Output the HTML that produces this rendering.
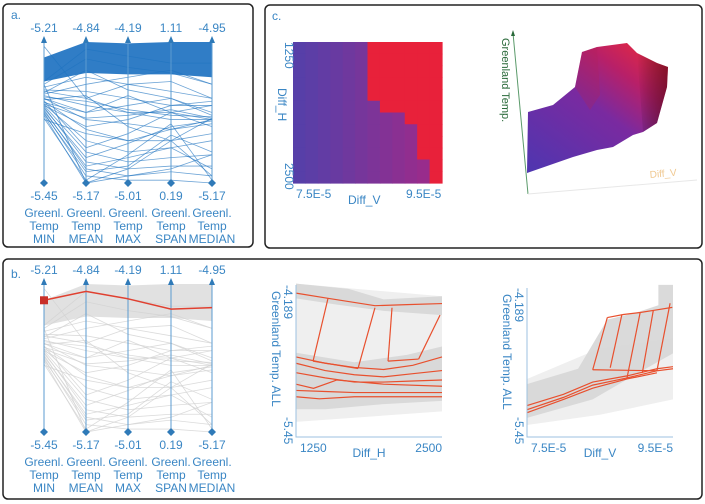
<!DOCTYPE html>
<html><head><meta charset="utf-8"><style>
html,body{margin:0;padding:0;background:#fff;}
svg{display:block;font-family:"Liberation Sans","DejaVu Sans",sans-serif;}
.lbl{fill:#3a86c4;font-size:12px;}
</style></head><body>
<svg id="root" width="705" height="504" viewBox="0 0 705 504">
<defs>
<linearGradient id="surfGrad" x1="0" y1="1" x2="0.8" y2="0">
<stop offset="0" stop-color="#4e36b0"/><stop offset="0.55" stop-color="#7a2aa0"/><stop offset="0.8" stop-color="#b82068"/><stop offset="1" stop-color="#e02845"/>
</linearGradient>
<linearGradient id="shadeGrad" x1="0" y1="0" x2="1" y2="0">
<stop offset="0" stop-color="#000" stop-opacity="0"/><stop offset="1" stop-color="#400010" stop-opacity="0.55"/>
</linearGradient>
</defs>
<rect x="3" y="4" width="250" height="243" rx="5" fill="none" stroke="#222" stroke-width="1.5"/>
<rect x="265" y="5" width="437" height="243" rx="5" fill="none" stroke="#222" stroke-width="1.5"/>
<rect x="3" y="259" width="699" height="240" rx="5" fill="none" stroke="#222" stroke-width="1.5"/>
<text x="11" y="19" class="lbl" font-size="13">a.</text>
<text x="272" y="20" class="lbl" font-size="13">c.</text>
<text x="11" y="278" class="lbl" font-size="13">b.</text>
<g id="pcpA"></g>
<g id="pcpB"></g>
<g id="heat"></g>
<g id="surf">
<polygon points="527,173 528,112 553,105 575,87 582,52 597,47 627,43 637,53 657,63 668,67 667,87 657,123 643,132 633,135 613,147 597,150 573,157" fill="url(#surfGrad)"/>
<polygon points="637,53 657,63 668,67 667,87 657,123 643,132" fill="url(#shadeGrad)"/>
<polygon points="575,87 582,52 597,47 600,95 590,110" fill="#b0205a" opacity="0.3"/>
<line x1="513" y1="33" x2="528" y2="194" stroke="#5a9a6a" stroke-width="1"/>
<polygon points="511,36 515,36 513,30" fill="#2a6a3a"/>
<line x1="528" y1="194" x2="697" y2="180" stroke="#e8e8e8" stroke-width="1"/>
<text transform="translate(502,38) rotate(90)" font-size="11" fill="#2a6a3a">Greenland Temp.</text>
<text x="650" y="178" font-size="10" fill="#f0c890" transform="rotate(-5 650 178)">Diff_V</text>
</g>
<g id="lineH"></g>
<g id="lineV"></g>
</svg>
<script>
// ---------- Parallel coordinates data ----------
const pcpAxisNames = ["MIN","MEAN","MAX","SPAN","MEDIAN"];
const pcpTopLabels = ["-5.21","-4.84","-4.19","1.11","-4.95"];
const pcpBottomLabels = ["-5.45","-5.17","-5.01","0.19","-5.17"];
// each record = fraction of axis range (0 = bottom, 1 = top) per axis
const pcpRecords = [
[.72,.95,.9,.85,.85],[.70,.88,.82,.78,.7],[.68,.75,.7,.65,.6],[.66,.65,.6,.55,.55],
[.62,.55,.5,.45,.45],[.60,.45,.42,.38,.42],[.58,.38,.3,.3,.35],[.56,.3,.22,.25,.3],
[.55,.22,.15,.18,.2],[.54,.15,.1,.12,.12],[.52,.1,.05,.08,.05],[.5,.05,.02,.02,0],
[.48,0,.1,.3,.05],[.46,.02,.2,.42,.02],[.45,.35,.3,.38,.45],[.6,.5,.55,.6,.5],
[.65,.6,.7,.72,.6],[.63,.7,.75,.8,.7],[.97,.6,.5,.5,.4],[.7,0,.05,.1,.2],
[.58,.25,.35,.5,.55],[.55,.4,.45,.55,.58],[.57,.5,.62,.5,.45],[.53,.18,.28,.4,.44],
[.59,.62,.4,.3,.46],[.51,.12,.18,.25,.1],[.64,.8,.66,.6,.48],[.49,.08,.12,.34,.22],
[.61,.58,.52,.48,.47],[.56,.46,.48,.52,.46]];
const pcpBandTop = [.89,1,.99,1,1];
const pcpBandBottom = [.72,.78,.77,.77,.75];
const pcpSelected = [.89,.95,.9,.83,.84];

const NS="http://www.w3.org/2000/svg";
function mk(tag,attrs,parent){const e=document.createElementNS(NS,tag);for(const k in attrs)e.setAttribute(k,attrs[k]);parent.appendChild(e);return e;}
const axisXs=[44,86,128,171,212];
function drawPCP(g,yTop,yBot,color,opacity,band,selected){
  const ys=f=>yBot-f*(yBot-yTop);
  const pts=[];axisXs.forEach((x,i)=>pts.push(x+","+ys(pcpBandTop[i])));
  for(let i=4;i>=0;i--)pts.push(axisXs[i]+","+ys(pcpBandBottom[i]));
  const b=mk("polygon",{points:pts.join(" "),fill:band,opacity:0.9},g);
  
  
  pcpRecords.forEach(r=>{
    const l=mk("polyline",{points:r.map((f,i)=>axisXs[i]+","+ys(f)).join(" "),fill:"none",stroke:color,"stroke-width":0.8,opacity:opacity},g);
    
    
  });
  axisXs.forEach((x,i)=>{
    const a=mk("line",{x1:x,y1:yTop,x2:x,y2:yBot,stroke:"#5b9bd0","stroke-width":1},g);
    
    
    mk("polygon",{points:(x-3)+","+(yTop+1)+" "+(x+3)+","+(yTop+1)+" "+x+","+(yTop-6),fill:"#2f7ab8"},g);
    mk("polygon",{points:x+","+(yBot-4)+" "+(x+4)+","+yBot+" "+x+","+(yBot+4)+" "+(x-4)+","+yBot,fill:"#2f7ab8"},g);
    const t=mk("text",{x:x,y:yTop-10,"text-anchor":"middle",class:"lbl","font-size":12},g);t.textContent=pcpTopLabels[i];
    
    
    const bt=mk("text",{x:x,y:yBot+17,"text-anchor":"middle",class:"lbl","font-size":12},g);bt.textContent=pcpBottomLabels[i];
    
    
    ["Greenl.","Temp",pcpAxisNames[i]].forEach((s,k)=>{
      const n=mk("text",{x:x,y:yBot+34+k*13,"text-anchor":"middle",class:"lbl","font-size":12},g);n.textContent=s;
      
      
    });
  });
  if(selected){
    const s=mk("polyline",{points:selected.map((f,i)=>axisXs[i]+","+ys(f)).join(" "),fill:"none",stroke:"#e04030","stroke-width":1.5},g);
    
    
    const q=mk("rect",{x:axisXs[0]-4,y:ys(selected[0])-4,width:8,height:8,fill:"#c8302a"},g);
    
    
  }
}
drawPCP(document.getElementById("pcpA"),42,183,"#1f73c0",0.65,"#1a6fc0",null);
drawPCP(document.getElementById("pcpB"),284,432,"#d2d2d2",0.8,"#dedede",pcpSelected);

// ---------- Heatmap ----------
const heatCols = 12, heatRows = 12;
const heatRedStart = [6,6,6,6,6,7,9,10,10,10,11,11];
const heatBaseRow = [-5.38,-5.35,-5.32,-5.28,-5.24,-5.2,-5.16,-5.12,-5.08,-5.04,-5.0,-4.96];
const heatRedValue = -4.3;
const heatX0=293,heatX1=442,heatY0=42,heatY1=183;
function heatColor(v){
  if(v>-4.6) return "#e8213a";
  const t=Math.max(0,Math.min(1,(v+5.4)/0.45));
  const c0=[84,64,170],c1=[160,42,136];
  return "rgb("+c0.map((c,i)=>Math.round(c+(c1[i]-c)*t)).join(",")+")";
}
(function(){
  const g=document.getElementById("heat");
  const cw=(heatX1-heatX0)/heatCols,ch=(heatY1-heatY0)/heatRows;
  for(let r=0;r<heatRows;r++)for(let c=0;c<heatCols;c++){
    const v=c>=heatRedStart[r]?heatRedValue:heatBaseRow[c];
    const e=mk("rect",{x:heatX0+c*cw,y:heatY0+r*ch,width:cw+0.6,height:ch+0.6,fill:heatColor(v)},g);
    
    
  }
  const labs=[["1250",285,42,90],["Diff_H",278,88,90],["2500",285,163,90]];
  labs.forEach(l=>{const t=mk("text",{transform:"translate("+l[1]+","+l[2]+") rotate("+l[3]+")",class:"lbl","font-size":11},g);t.textContent=l[0];
    
    });
  [["7.5E-5",296,198],["Diff_V",348,204],["9.5E-5",406,198]].forEach(l=>{const t=mk("text",{x:l[1],y:l[2],class:"lbl","font-size":11},g);t.textContent=l[0];
    
    });
})();

// ---------- Diff_H line chart ----------
const tempTop=-4.189, tempBot=-5.45;
const diffHSeries = [
[[1250,-4.19],[1524,-4.24],[1926,-4.31],[2200,-4.30],[2500,-4.29]],
[[1250,-4.80],[1500,-4.86],[1750,-4.90],[2000,-4.92],[2250,-4.88],[2500,-4.80]],
[[1250,-4.86],[1500,-4.93],[1750,-4.97],[2000,-4.99],[2250,-4.96],[2500,-4.93]],
[[1250,-4.95],[1500,-5.00],[1750,-5.04],[2000,-5.04],[2250,-5.03],[2500,-5.02]],
[[1250,-5.06],[1400,-5.10],[1600,-5.02],[2000,-5.06],[2500,-5.08]],
[[1250,-5.12],[1500,-5.13],[1750,-5.14],[2000,-5.14],[2500,-5.14]],
[[1250,-5.18],[1450,-5.20],[1750,-5.18],[2000,-5.18],[2500,-5.18]]];
const diffHConnectors = [
[[1396,-4.84],[1524,-4.24]],[[1396,-4.84],[1781,-4.91]],[[1781,-4.91],[1926,-4.33]],
[[2038,-4.84],[2072,-4.33]],[[2038,-4.84],[2300,-4.82]],[[2300,-4.82],[2483,-4.40]]];
const diffHTicks=["1250","2500"];
// ---------- Diff_V line chart ----------
const diffVSeries = [
[[7.5,-5.30],[8.0,-5.18],[8.4,-5.06],[8.87,-4.99],[9.28,-4.92],[9.5,-4.90]],
[[7.5,-5.26],[8.0,-5.15],[8.4,-5.03],[8.87,-4.97],[9.28,-4.90],[9.5,-4.88]],
[[7.5,-5.33],[8.0,-5.20],[8.4,-5.09],[8.87,-5.00],[9.28,-4.94]],
[[8.6,-4.40],[8.82,-4.37],[9.05,-4.35],[9.23,-4.33],[9.49,-4.30]]];
const diffVConnectors = [
[[8.40,-4.91],[8.60,-4.40]],[[8.64,-4.89],[8.80,-4.37]],[[8.87,-4.99],[9.05,-4.35]],
[[9.08,-4.94],[9.23,-4.33]],[[9.28,-4.92],[9.46,-4.26]],[[8.40,-4.91],[9.28,-4.92]]];
const diffVTicks=["7.5E-5","9.5E-5"];

function lineChart(g,x0,x1,dMin,dMax,yTop,yBot,series,conns,ticks,xTitle,bandPts,lightPts){
  const xs=d=>x0+(d-dMin)/(dMax-dMin)*(x1-x0);
  const ys=t=>yTop+(tempTop-t)/(tempTop-tempBot)*(yBot-yTop);
  const lp=mk("polygon",{points:lightPts.map(p=>xs(p[0])+","+ys(p[1])).join(" "),fill:"#efefef"},g);
  
  
  bandPts.forEach(bp=>{
    const b=mk("polygon",{points:bp.map(p=>xs(p[0])+","+ys(p[1])).join(" "),fill:"#d6d6d6",opacity:0.9},g);
    
    
  });
  series.concat(conns).forEach(s=>{
    const l=mk("polyline",{points:s.map(p=>xs(p[0])+","+ys(p[1])).join(" "),fill:"none",stroke:"#e8502e","stroke-width":1.2},g);
    
    
  });
  const ax=mk("polyline",{points:x0+","+(yTop-8)+" "+x0+","+(yBot+12)+" "+x1+","+(yBot+12),fill:"none",stroke:"#9cc2e0","stroke-width":1},g);
  
  
  const t1=mk("text",{x:x0+4,y:yBot+27,class:"lbl","font-size":11},g);t1.textContent=ticks[0];
  
  
  const t2=mk("text",{x:x1,y:yBot+27,"text-anchor":"end",class:"lbl","font-size":11},g);t2.textContent=ticks[1];
  
  
  const xt=mk("text",{x:(x0+x1)/2,y:yBot+32,"text-anchor":"middle",class:"lbl","font-size":11},g);xt.textContent=xTitle;
  
  
  const yt1=mk("text",{transform:"translate("+(x0-12)+","+(yTop-8)+") rotate(90)",class:"lbl","font-size":11},g);yt1.textContent="-4.189";
  
  
  const yt2=mk("text",{transform:"translate("+(x0-12)+","+(yBot-8)+") rotate(90)",class:"lbl","font-size":11},g);yt2.textContent="-5.45";
  
  
  const ytl=mk("text",{transform:"translate("+(x0-24)+","+(yTop-2)+") rotate(90)",class:"lbl","font-size":11},g);ytl.textContent="Greenland Temp. ALL";
  
  
}
lineChart(document.getElementById("lineH"),296,442,1250,2500,293,425,diffHSeries,diffHConnectors,diffHTicks,"Diff_H",
 [[[1250,-4.10],[1700,-4.15],[2000,-4.25],[2500,-4.22],[2500,-4.40],[2000,-4.36],[1600,-4.30],[1250,-4.24]],
  [[1250,-4.76],[1750,-4.85],[2200,-4.78],[2500,-4.70],[2500,-5.22],[2000,-5.25],[1500,-5.30],[1250,-5.30]]],
 [[1250,-4.10],[2500,-4.22],[2500,-5.32],[1250,-5.42]]);
lineChart(document.getElementById("lineV"),527,673,7.5,9.5,296,425,diffVSeries,diffVConnectors,diffVTicks,"Diff_V",
 [[[7.5,-5.05],[8.2,-4.90],[8.6,-4.42],[9.0,-4.35],[9.3,-4.28],[9.3,-4.08],[9.5,-4.08],[9.5,-4.75],[9.0,-4.95],[8.4,-5.20],[7.5,-5.38]]],
 [[7.5,-5.0],[8.5,-4.7],[9.5,-4.6],[9.5,-5.2],[8.5,-5.35],[7.5,-5.45]]);
</script>
</body></html>
